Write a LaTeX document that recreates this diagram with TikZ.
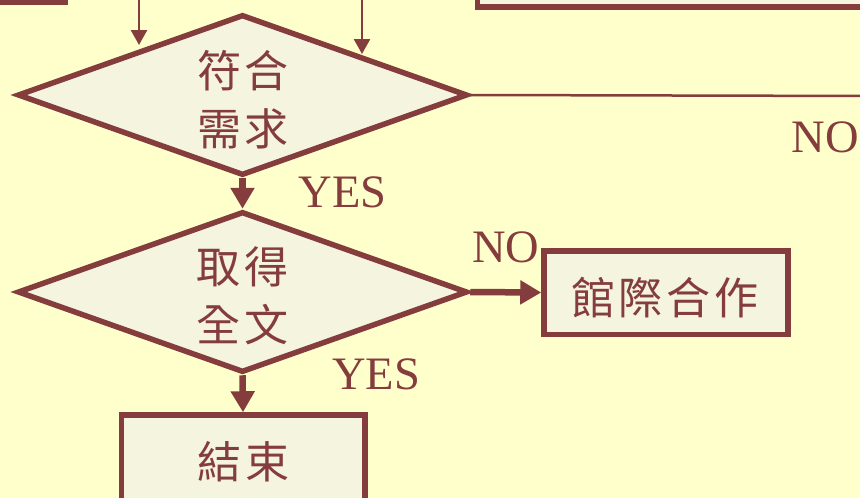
\documentclass[tikz,border=0pt]{standalone}
\usepackage{fontspec}
\setmainfont{Liberation Serif}
\newfontfamily\cjk{Noto Sans CJK TC}
\usetikzlibrary{shapes.geometric,arrows.meta}
\definecolor{bg}{HTML}{FFFFCC}
\definecolor{ink}{HTML}{843C3C}
\definecolor{boxfill}{HTML}{F4F4DF}
\begin{document}
\begin{tikzpicture}[x=1pt,y=-1pt,
  dia/.style={diamond, draw=ink, fill=boxfill, line width=5.5pt, minimum width=450pt, minimum height=161pt, inner sep=0pt},
  rbox/.style={rectangle, draw=ink, fill=boxfill, line width=5.5pt, inner sep=0pt},
  cjktext/.style={text=ink, font=\cjk\fontsize{44}{58}\selectfont, align=center, inner sep=0pt},
  lab/.style={text=ink, font=\fontsize{46.5}{54}\selectfont, inner sep=0pt},
  thickarrow/.style={draw=ink, line width=6.5pt, -{Triangle[length=21pt,width=23pt]}},
  thinarrow/.style={draw=ink, line width=2.5pt, -{Triangle[length=15pt,width=16pt]}},
  thinline/.style={draw=ink, line width=2.5pt}]
\fill[bg] (0,0) rectangle (860,498);
\useasboundingbox (0,0) rectangle (860,498);
\clip (0,0) rectangle (860,498);

% partially visible boxes at the top
\node[rbox, minimum width=200pt, minimum height=100pt] (tl) at (-34.5,-47.5) {};
\node[rbox, minimum width=500pt, minimum height=100pt] (tr) at (727.5,-43) {};

% decisions
\node[dia] (d1) at (242.5,95) {};
\node[cjktext] (d1t) at (243,100) {符\kern4pt 合\\需\kern4pt 求};
\node[dia] (d2) at (242.5,292) {};
\node[cjktext] (d2t) at (242.5,296) {取\kern4pt 得\\全\kern4pt 文};

% boxes
\node[rbox, minimum width=243.5pt, minimum height=94pt] (end) at (243,462) {};
\node[cjktext] (endt) at (243.5,461.5) {結\kern4pt 束};
\node[rbox, minimum width=244pt, minimum height=83.5pt] (ill) at (666,292.5) {};
\node[cjktext] (illt) at (665,297.5) {館\kern4pt 際\kern4pt 合\kern4pt 作};

% incoming arrows from above
\coordinate (a1s) at (139,-5);
\coordinate (a1e) at (139,45);
\coordinate (a2s) at (362,-5);
\coordinate (a2e) at (362,54);
\draw[thinarrow] (a1s) -- (a1e);
\draw[thinarrow] (a2s) -- (a2e);

% NO line to the right
\coordinate (rEnd) at (875,96);
\draw[thinline] (d1.east) -- (rEnd);

% flow arrows
\draw[thickarrow] (d1.south) -- (d2.north);
\draw[thickarrow] (d2.south) -- (end.north);
\draw[thickarrow] (d2.east) -- (ill.west);

% labels
\node[lab] (yes1) at (342.5,192) {YES};
\node[lab] (yes2) at (376,374) {YES};
\node[lab] (no1) at (825.5,137) {NO};
\node[lab] (no2) at (506,247) {NO};
\end{tikzpicture}
\end{document}
